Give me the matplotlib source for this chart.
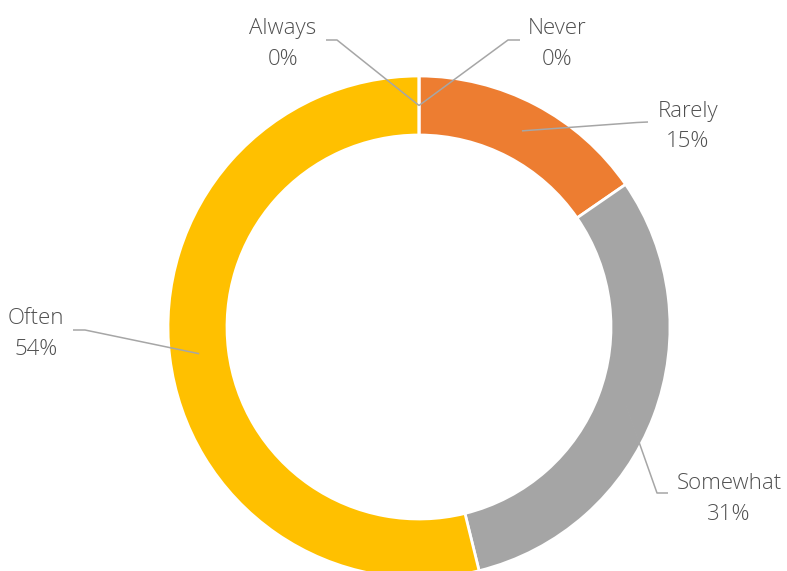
import numpy as np
import matplotlib
matplotlib.use("Agg")
import matplotlib.pyplot as plt

categories = ["Never", "Rarely", "Somewhat", "Often", "Always"]
responses = [0, 2, 4, 7, 0]
colors = ["#4472C4", "#ED7D31", "#A5A5A5", "#FFC000", "#5B9BD5"]

W, H = 787, 571
fig = plt.figure(figsize=(W / 100, H / 100), dpi=100)
ax = fig.add_axes([0, 0, 1, 1])

cx, cy = 419, H - 327
R = 251
ring = 59

wedges, _ = ax.pie(responses, colors=colors, startangle=90, counterclock=False,
                   radius=R, center=(cx, cy),
                   wedgeprops=dict(width=ring, edgecolor="white", linewidth=2.0),
                   normalize=True, frame=True)
ax.set_xlim(0, W)
ax.set_ylim(0, H)
ax.set_aspect("equal")
ax.axis("off")

total = sum(responses)
fam = ["Open Sans", "DejaVu Sans"]
txt_color = "#505050"
line_color = "#A6A6A6"

layout = {
    "Always":   dict(tx=283, ty=44, p1=(326, 40), p2=(337, 40)),
    "Never":    dict(tx=557, ty=44, p1=(520, 40), p2=(508, 40)),
    "Rarely":   dict(tx=688, ty=126.5, p1=(648, 122), p2=(637, 122.5)),
    "Somewhat": dict(tx=729, ty=499, p1=(668, 493), p2=(657, 493)),
    "Often":    dict(tx=36, ty=334, p1=(73, 330), p2=(85, 330)),
}

for w, cat, val in zip(wedges, categories, responses):
    mid = np.deg2rad((w.theta1 + w.theta2) / 2)
    rm = R - ring / 2
    ex = cx + rm * np.cos(mid)
    ey = cy + rm * np.sin(mid)
    L = layout[cat]
    xs = [L["p1"][0], L["p2"][0], ex]
    ys = [H - L["p1"][1], H - L["p2"][1], ey]
    ax.plot(xs, ys, color=line_color, lw=1.1, solid_capstyle="butt", zorder=5)
    pct = 100 * val / total
    ax.text(L["tx"], H - L["ty"], f"{cat}\n{pct:.0f}%", ha="center", va="center",
            fontsize=16, family=fam, fontweight="light", color=txt_color,
            linespacing=1.62, zorder=6)

fig.savefig("out.png", dpi=100, facecolor="white")
